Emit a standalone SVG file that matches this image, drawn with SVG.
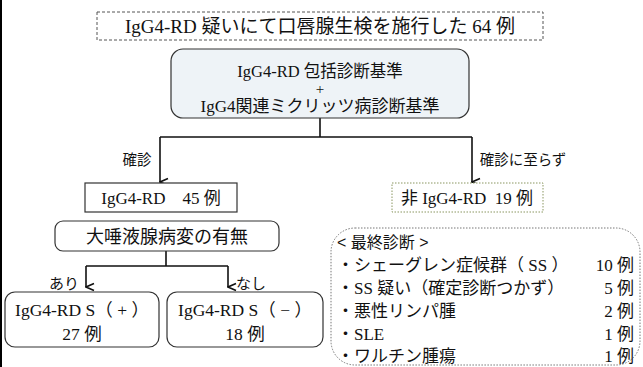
<svg xmlns="http://www.w3.org/2000/svg" width="643" height="367" viewBox="0 0 643 367">
<style>
text{font-family:"Liberation Serif","Noto Sans CJK JP",serif;fill:#111;}
.g{font-family:"Liberation Sans","Noto Sans CJK JP",sans-serif;}
.c{text-anchor:middle;}
.box{fill:#fff;stroke:#333;stroke-width:1.2;}
.ln{fill:none;stroke:#111;stroke-width:1.6;}
</style>
<defs>
<marker id="ah" viewBox="0 0 10 10" refX="5" refY="9" markerWidth="10" markerHeight="10" markerUnits="userSpaceOnUse" orient="auto-start-reverse">
<path d="M1.5,1 L5,9 L8.5,1" fill="none" stroke="#111" stroke-width="1.6"/>
</marker>
</defs>
<rect x="0" y="0" width="643" height="367" fill="#fff"/>
<rect x="0" y="0" width="2" height="367" fill="#000"/>
<g id="connectors">
<path class="ln" d="M320,118 V137 M160,137 H472"/>
<path class="ln" d="M160,137 V182" marker-end="url(#ah)"/>
<path class="ln" d="M472,137 V182" marker-end="url(#ah)"/>
<path class="ln" d="M166,251 V266 M86,266 H228"/>
<path class="ln" d="M86,266 V287" marker-end="url(#ah)"/>
<path class="ln" d="M228,266 V287" marker-end="url(#ah)"/>
<text x="137" y="165" class="c" font-size="14.5">確診</text>
<text x="523" y="165" class="c" font-size="14.5">確診に至らず</text>
<text x="64" y="289" class="c" font-size="15">あり</text>
<text x="251" y="289" class="c" font-size="15">なし</text>
</g>
<g id="n-top">
<rect x="97" y="12" width="446" height="28" fill="#fff" stroke="#555" stroke-width="1" stroke-dasharray="3,2"/>
<text x="320" y="33" class="c" font-size="19">IgG4-RD 疑いにて口唇腺生検を施行した 64 例</text>
</g>
<g id="n-criteria">
<rect x="171" y="49" width="298" height="69" rx="12" fill="#eef3f7" stroke="#333" stroke-width="1.2"/>
<text x="320" y="77" class="c" font-size="16.5">IgG4-RD 包括診断基準</text>
<text x="320" y="94" class="c" font-size="15">+</text>
<text x="320" y="112" class="c" font-size="17">IgG4関連ミクリッツ病診断基準</text>
</g>
<g id="n-igg4">
<rect class="box" x="85" y="183" width="152" height="29"/>
<text x="161" y="204" class="c" font-size="17" xml:space="preserve">IgG4-RD　45 例</text>
</g>
<g id="n-non">
<rect x="392" y="183" width="151" height="29" fill="#fff" stroke="#8a9660" stroke-width="1" stroke-dasharray="1.5,1.5"/>
<text x="467" y="204" class="c" font-size="17" xml:space="preserve">非 IgG4-RD  19 例</text>
</g>
<g id="n-salivary">
<rect class="box" x="55" y="221" width="224" height="30" rx="8"/>
<text x="167" y="243" class="c g" font-size="18">大唾液腺病変の有無</text>
</g>
<g id="n-splus">
<rect class="box" x="5" y="292" width="154" height="55" rx="10"/>
<text x="82" y="316" class="c" font-size="17.5" xml:space="preserve">IgG4-RD S（ + ）</text>
<text x="82" y="340" class="c" font-size="17.5">27 例</text>
</g>
<g id="n-sminus">
<rect class="box" x="167" y="292" width="156" height="55" rx="10"/>
<text x="245" y="316" class="c" font-size="17.5" xml:space="preserve">IgG4-RD S（ − ）</text>
<text x="245" y="340" class="c" font-size="17.5">18 例</text>
</g>
<g id="n-final">
<rect x="331" y="228" width="309" height="137" rx="24" fill="#fff" stroke="#777" stroke-width="1" stroke-dasharray="1.5,1.5"/>
<text x="337" y="248" class="g" font-size="16">&lt; 最終診断 &gt;</text>
<text x="337" y="271" font-size="17" xml:space="preserve">・シェーグレン症候群（ SS ）</text>
<text x="634" y="271" font-size="17" text-anchor="end">10 例</text>
<text x="337" y="294" font-size="17" xml:space="preserve">・SS 疑い（確定診断つかず）</text>
<text x="634" y="294" font-size="17" text-anchor="end">5 例</text>
<text x="337" y="317" font-size="17">・悪性リンパ腫</text>
<text x="634" y="317" font-size="17" text-anchor="end">2 例</text>
<text x="337" y="340" font-size="17">・SLE</text>
<text x="634" y="340" font-size="17" text-anchor="end">1 例</text>
<text x="337" y="362" font-size="17">・ワルチン腫瘍</text>
<text x="634" y="362" font-size="17" text-anchor="end">1 例</text>
</g>
</svg>
